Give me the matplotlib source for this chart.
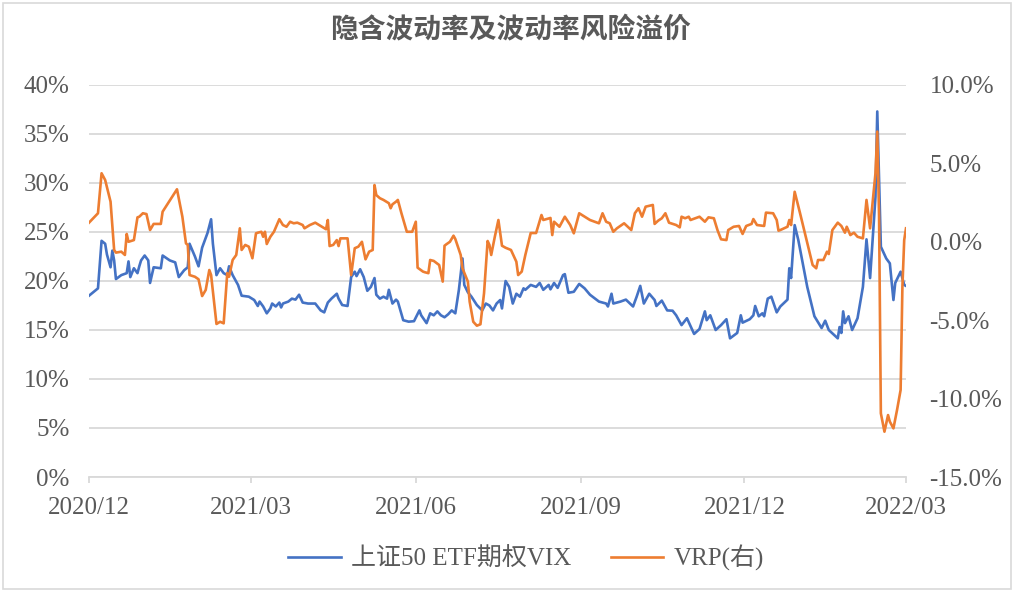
import matplotlib
matplotlib.use("Agg")
import matplotlib.pyplot as plt
import matplotlib.dates as mdates
from matplotlib.ticker import FuncFormatter, MultipleLocator
from matplotlib.patches import Rectangle
import pandas as pd

# ---------------- data ----------------
start_date = "2020-12-01"
end_date = "2022-03-01"

# 上证50 ETF期权VIX (%), day offsets from start_date
vix_days = [0, 5, 7, 9, 10, 12, 13, 14, 15, 18, 21, 22, 23, 25, 27, 28, 29, 31, 33, 34,
            36, 40, 41, 45, 48, 50, 53, 55, 56, 59, 61, 63, 66, 68, 69, 71, 73, 75, 77, 78,
            80, 83, 85, 89, 92, 94, 95, 97, 99, 101, 102, 104, 106, 107, 108, 111, 113, 115, 117, 119,
            122, 126, 129, 131, 133, 135, 138, 139, 141, 144, 146, 148, 149, 151, 153, 155, 157, 159, 160, 162,
            164, 166, 167, 169, 171, 172, 175, 178, 181, 184, 185, 188, 190, 192, 194, 196, 198, 200, 202, 204,
            206, 208, 209, 211, 213, 216, 219, 221, 223, 225, 227, 229, 230, 232, 234, 236, 238, 240, 242, 243,
            246, 249, 251, 253, 256, 257, 259, 261, 264, 265, 267, 270, 273, 276, 279, 284, 288, 289, 291, 292,
            296, 299, 303, 305, 307, 309, 312, 315, 316, 319, 322, 325, 327, 330, 333, 337, 340, 343, 344, 346,
            349, 352, 355, 357, 361, 363, 364, 368, 370, 371, 373, 375, 376, 378, 380, 383, 385, 389, 390, 391,
            393, 395, 400, 404, 408, 410, 412, 417, 418, 419, 420, 421, 423, 425, 428, 431, 433, 435, 438, 439,
            441, 444, 446, 448, 449, 452, 454, 455]
vix_values = [18.5, 19.25, 24.1, 23.8, 22.7, 21.4, 23.1, 22.1, 20.2, 20.6, 20.8, 22.0, 20.4, 21.3, 20.8, 21.5, 22.1, 22.6, 22.1, 19.8,
              21.4, 21.3, 22.6, 22.1, 21.9, 20.4, 21.1, 21.4, 23.8, 22.5, 21.5, 23.4, 24.9, 26.3, 23.8, 20.6, 21.3, 20.8, 20.6, 21.5,
              20.6, 19.6, 18.5, 18.4, 18.06, 17.45, 17.9, 17.4, 16.7, 17.2, 17.7, 17.4, 17.8, 17.3, 17.7, 17.9, 18.2, 18.1, 18.6, 17.8,
              17.7, 17.7, 17.0, 16.8, 17.8, 18.2, 18.7, 18.2, 17.55, 17.45, 20.4, 20.95, 20.5, 21.2, 20.4, 19.0, 19.4, 20.3, 18.6, 18.2,
              18.4, 18.2, 19.1, 17.7, 18.1, 17.9, 16.0, 15.85, 15.9, 17.0, 16.5, 15.7, 16.7, 16.5, 16.9, 16.5, 16.3, 16.6, 17.0, 16.7,
              19.1, 22.3, 19.6, 18.85, 18.4, 17.55, 17.0, 17.7, 17.5, 17.0, 17.7, 18.06, 17.2, 20.0, 19.4, 17.7, 18.7, 18.4, 19.25, 19.1,
              19.6, 19.4, 19.8, 19.1, 19.6, 19.15, 19.8, 19.3, 20.6, 20.7, 18.8, 18.9, 19.7, 19.25, 18.6, 17.9, 17.7, 17.4, 18.7, 17.7,
              17.9, 18.1, 17.4, 18.4, 19.5, 17.7, 18.7, 18.06, 17.45, 18.0, 17.0, 16.97, 16.5, 15.5, 16.2, 14.6, 15.1, 16.9, 16.0, 16.5,
              15.0, 15.5, 16.1, 14.15, 14.7, 16.5, 15.75, 16.1, 16.5, 17.45, 16.4, 16.7, 16.4, 18.2, 18.4, 16.8, 17.4, 18.1, 21.3, 20.3,
              25.7, 24.2, 19.4, 16.4, 15.2, 15.95, 15.0, 14.15, 15.3, 14.7, 16.9, 15.7, 16.4, 15.0, 16.2, 19.4, 24.25, 20.3, 28.6, 37.3,
              23.5, 22.3, 21.8, 18.06, 19.8, 20.95, 19.6, 19.5]

# VRP (%), right axis, day offsets from start_date
vrp_days = [0, 5, 7, 9, 12, 14, 15, 18, 20, 21, 22, 25, 27, 28, 30, 32, 34, 36, 40, 41,
            49, 52, 54, 55, 56, 59, 61, 63, 65, 67, 68, 71, 73, 75, 77, 78, 80, 82, 84, 85,
            87, 89, 91, 93, 94, 96, 97, 98, 99, 101, 103, 105, 106, 108, 110, 112, 114, 116, 119, 120,
            123, 126, 129, 132, 133, 134, 136, 138, 139, 140, 144, 146, 148, 150, 152, 154, 156, 158, 159, 160,
            162, 164, 167, 168, 169, 171, 172, 174, 177, 180, 182, 183, 186, 187, 189, 190, 192, 195, 197, 198,
            199, 201, 203, 204, 207, 208, 211, 212, 214, 216, 218, 220, 222, 223, 224, 226, 228, 230, 232, 235,
            238, 239, 241, 243, 246, 249, 252, 253, 257, 258, 259, 262, 265, 268, 270, 273, 279, 284, 286, 288,
            290, 292, 294, 298, 302, 304, 306, 308, 310, 314, 315, 317, 319, 321, 323, 327, 329, 330, 332, 334,
            335, 340, 343, 345, 348, 350, 352, 355, 356, 359, 362, 364, 366, 369, 370, 372, 376, 377, 381, 383,
            384, 385, 389, 390, 391, 393, 396, 403, 405, 406, 409, 411, 412, 414, 417, 419, 421, 422, 424, 426,
            428, 431, 433, 435, 436, 438, 439, 440, 441, 443, 445, 446, 448, 450, 452, 453, 454, 455]
vrp_values = [1.22, 1.82, 4.37, 3.94, 2.56, -0.52, -0.69, -0.63, -0.84, 0.5, 0.0, 0.11, 1.56, 1.6, 1.82, 1.77, 0.75, 1.14, 1.14, 1.92,
              3.35, 1.6, -0.1, -0.2, -2.12, -2.23, -2.39, -3.46, -3.07, -1.8, -2.12, -5.24, -5.1, -5.2, -2.0, -2.23, -1.16, -0.84, 0.86, -0.52,
              -0.2, -0.31, -1.05, 0.54, 0.58, 0.64, 0.32, 0.64, -0.14, 0.32, 0.64, 1.18, 1.44, 1.07, 0.96, 1.28, 1.18, 1.22, 1.07, 0.86,
              1.07, 1.22, 1.01, 0.8, 1.39, -0.27, -0.2, 0.11, -0.27, 0.22, 0.22, -2.12, -0.41, -0.31, 0.0, -1.12, -0.63, -0.52, 3.62, 2.98,
              2.78, 2.67, 2.46, 2.14, 2.39, 2.56, 2.67, 1.82, 0.64, 0.64, 1.28, -1.65, -1.9, -1.94, -2.0, -1.16, -1.22, -1.48, -2.54, -0.25,
              -0.16, 0.0, 0.39, 0.18, -0.84, -1.69, -2.54, -3.82, -5.1, -5.35, -5.26, -3.28, 0.05, -0.2, -0.84, 0.32, 1.39, -0.25, -0.38, -0.52,
              -1.27, -2.12, -1.9, -0.84, 0.56, 0.56, 1.71, 1.39, 1.52, 0.43, 1.28, 0.96, 1.6, 1.07, 0.54, 1.82, 1.39, 1.18, 1.82, 1.28,
              1.18, 0.64, 0.86, 1.18, 0.75, 1.82, 2.14, 1.6, 2.24, 2.35, 1.14, 1.35, 1.5, 1.82, 1.22, 1.07, 0.92, 1.6, 1.5, 1.6,
              1.39, 1.6, 1.28, 1.56, 1.5, 0.75, 0.16, 0.11, 0.75, 0.96, 1.01, 0.5, 1.01, 1.14, 1.45, 1.07, 1.01, 1.86, 1.82, 1.39,
              0.71, 0.75, 0.96, 1.39, 1.07, 3.19, 1.82, -1.48, -1.69, -1.16, -1.16, -0.63, -0.78, 0.75, 1.22, 1.01, 0.58, 0.96, 0.43, 0.58,
              0.32, 0.22, 2.67, 0.86, 2.03, 4.37, 7.03, 1.6, -10.94, -12.11, -11.05, -11.47, -11.9, -10.73, -9.45, -2.86, 0.11, 0.86]

x_ticks = ["2020-12-01", "2021-03-01", "2021-06-01", "2021-09-01", "2021-12-01", "2022-03-01"]
title = "隐含波动率及波动率风险溢价"
label_vix = "上证50 ETF期权VIX"
label_vrp = "VRP(右)"

# ---------------- style ----------------
BLUE = "#4472C4"
ORANGE = "#ED7D31"
GRID = "#D9D9D9"
TEXT = "#595959"
FONT = ["Liberation Serif", "Noto Sans CJK SC", "DejaVu Sans"]
plt.rcParams["font.family"] = FONT

t0 = pd.Timestamp(start_date)
vix_dates = t0 + pd.to_timedelta(vix_days, unit="D")
vrp_dates = t0 + pd.to_timedelta(vrp_days, unit="D")

fig = plt.figure(figsize=(10.2, 5.91), dpi=100)
ax = fig.add_axes([89 / 1020, 1 - 477 / 591, (906 - 89) / 1020, (477 - 85) / 591])
ax2 = ax.twinx()

l1, = ax.plot(vix_dates, vix_values, color=BLUE, lw=1.9, label=label_vix, zorder=3)
l2, = ax2.plot(vrp_dates, vrp_values, color=ORANGE, lw=1.9, label=label_vrp, zorder=3)

ax.set_xlim(pd.Timestamp(start_date), pd.Timestamp(end_date))
ax.set_ylim(0, 40)
ax2.set_ylim(-15, 10)
ax.yaxis.set_major_locator(MultipleLocator(5))
ax2.yaxis.set_major_locator(MultipleLocator(5))
ax.yaxis.set_major_formatter(FuncFormatter(lambda v, p: f"{v:.0f}%"))
ax2.yaxis.set_major_formatter(FuncFormatter(lambda v, p: f"{v:.1f}%"))
ax.set_xticks(pd.to_datetime(x_ticks))
ax.xaxis.set_major_formatter(mdates.DateFormatter("%Y/%m"))

ax.grid(axis="y", color=GRID, lw=1.3, zorder=0)
ax.set_axisbelow(True)
for a in (ax, ax2):
    for s in ("top", "left", "right", "bottom"):
        a.spines[s].set_visible(False)
ax.spines["bottom"].set_visible(True)
ax.spines["bottom"].set_color(GRID)
ax.spines["bottom"].set_linewidth(1.3)

ax.tick_params(axis="y", length=0, pad=14, labelsize=18, labelcolor=TEXT)
ax2.tick_params(axis="y", length=0, pad=17, labelsize=18, labelcolor=TEXT)
ax.tick_params(axis="x", length=4.3, width=1.3, color=GRID, pad=10, labelsize=18, labelcolor=TEXT)

fig.text(0.5, 1 - 29 / 591, title, ha="center", va="center", fontsize=20,
         color=TEXT, fontweight="bold", family=["Noto Sans CJK SC", "DejaVu Sans"])

leg = fig.legend([l1, l2], [label_vix, label_vrp], loc="center", bbox_to_anchor=(526 / 1020, 1 - 558 / 591),
                 ncol=2, frameon=False, fontsize=18, handlelength=2.1, columnspacing=1.6,
                 handletextpad=0.4)
for t in leg.get_texts():
    t.set_color(TEXT)

fig.patches.append(Rectangle((3 / 1020, 2 / 591), 1 - 12 / 1020, 1 - 5 / 591, transform=fig.transFigure,
                             fill=False, edgecolor=GRID, lw=1.2))

fig.savefig("out.png", dpi=100, facecolor="white")
